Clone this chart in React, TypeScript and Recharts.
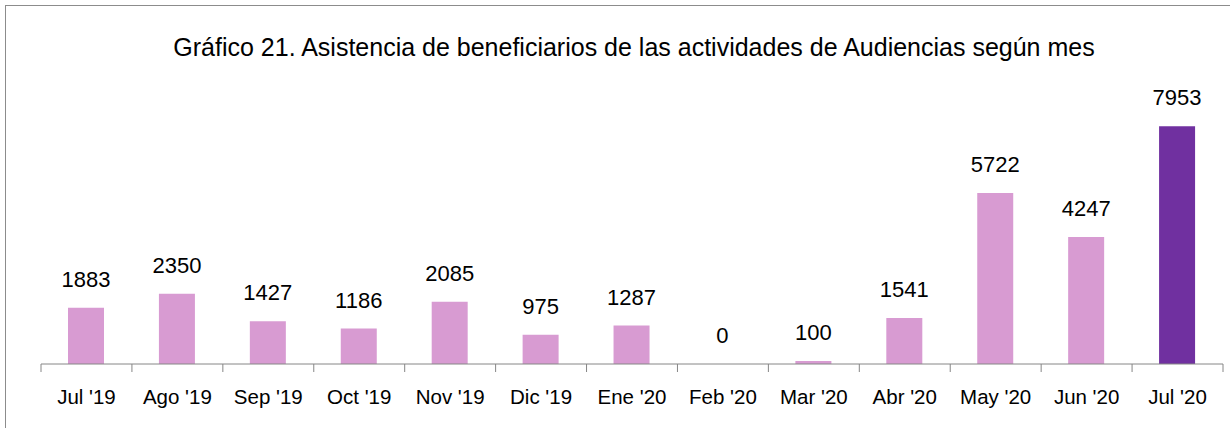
import { BarChart, Bar, XAxis, YAxis, Cell, LabelList } from "recharts";

const months = [
  "Jul '19", "Ago '19", "Sep '19", "Oct '19", "Nov '19", "Dic '19", "Ene '20",
  "Feb '20", "Mar '20", "Abr '20", "May '20", "Jun '20", "Jul '20",
];
const asistencia = [1883, 2350, 1427, 1186, 2085, 975, 1287, 0, 100, 1541, 5722, 4247, 7953];

const title = "Gráfico 21. Asistencia de beneficiarios de las actividades de Audiencias según mes";

const data = months.map((m, i) => ({ mes: m, valor: asistencia[i] }));

const W = 1230;
const H = 428;
const LEFT = 41;
const RIGHT = 7;
const band = (W - LEFT - RIGHT) / months.length;
const axisColor = "#868686";
const pink = "#D89BD2";
const purple = "#7030A0";
const font = "'Liberation Sans', Arial, sans-serif";

const MonthTick = (props: any) => {
  const { x, y, payload, index } = props;
  const y0 = y - 8;
  return (
    <g>
      <line x1={x - band / 2} x2={x - band / 2} y1={y0} y2={y0 + 8} stroke={axisColor} />
      {index === months.length - 1 && (
        <line x1={x + band / 2} x2={x + band / 2} y1={y0} y2={y0 + 8} stroke={axisColor} />
      )}
      <text x={x} y={y0 + 40} textAnchor="middle" fontSize={20.5} fill="#000" fontFamily={font}>
        {payload.value}
      </text>
    </g>
  );
};

export default function App() {
  return (
    <div style={{ position: "absolute", left: 0, top: 0, width: W, height: H, background: "#fff", overflow: "hidden" }}>
      <div
        style={{
          position: "absolute",
          left: 5,
          top: 5,
          width: W,
          height: H,
          border: "1px solid #8c8c8c",
        }}
      />
      <BarChart
        width={W}
        height={H}
        data={data}
        margin={{ top: 95, right: RIGHT, left: LEFT, bottom: 0 }}
        barCategoryGap={0}
        style={{ position: "absolute", left: 0, top: 0 }}
      >
        <text x={634} y={56} textAnchor="middle" fontSize={25} fill="#000" fontFamily={font}>
          {title}
        </text>
        <XAxis
          dataKey="mes"
          height={64}
          stroke={axisColor}
          tickLine={false}
          interval={0}
          tick={<MonthTick />}
        />
        <YAxis hide domain={[0, 9000]} />
        <Bar dataKey="valor" barSize={36} minPointSize={0.01} isAnimationActive={false}>
          {data.map((d, i) => (
            <Cell key={d.mes} fill={i === data.length - 1 ? purple : pink} />
          ))}
          <LabelList
            dataKey="valor"
            position="top"
            offset={21}
            fontSize={22}
            fill="#000"
            fontFamily={font}
          />
        </Bar>
      </BarChart>
    </div>
  );
}
